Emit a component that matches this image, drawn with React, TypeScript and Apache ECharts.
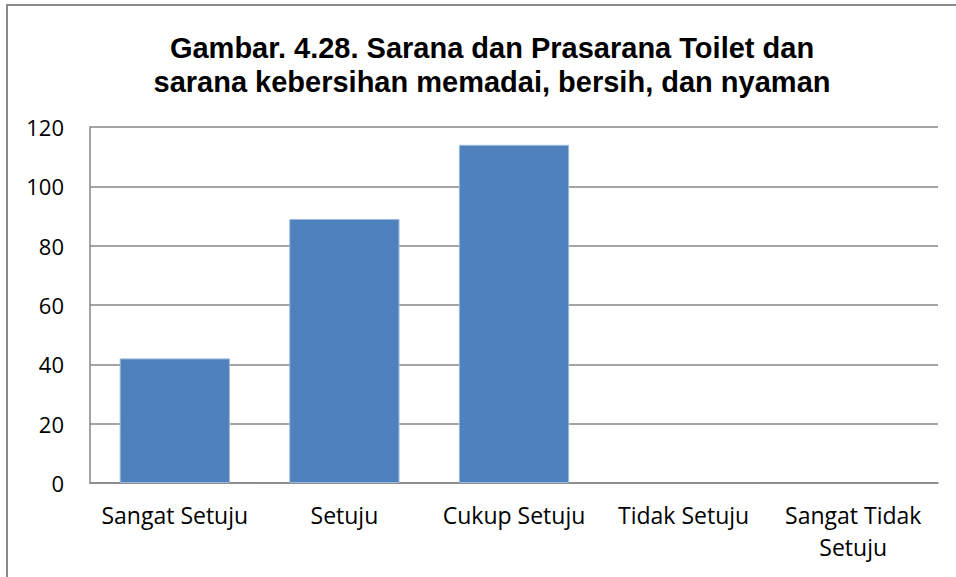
import React, { useEffect, useRef } from "react";
import * as echarts from "echarts";

const titleLines = [
  "Gambar. 4.28. Sarana dan Prasarana Toilet dan",
  "sarana kebersihan memadai, bersih, dan nyaman",
];
const categories = [
  "Sangat Setuju",
  "Setuju",
  "Cukup Setuju",
  "Tidak Setuju",
  "Sangat Tidak\nSetuju",
];
const values = [42, 89, 114, 0, 0];
const yMin = 0;
const yMax = 120;
const yInterval = 20;

export default function App() {
  const ref = useRef<HTMLDivElement>(null);
  useEffect(() => {
    document.body.style.margin = "0";
    const chart = echarts.init(ref.current!, null, { renderer: "svg" });
    chart.setOption({
      animation: false,
      backgroundColor: "#ffffff",
      graphic: [
        {
          type: "rect",
          shape: { x: 7, y: 5, width: 1000, height: 1000 },
          style: { fill: "none", stroke: "#8a8a8a", lineWidth: 2 },
          silent: true,
        },
      ],
      title: {
        text: titleLines.join("\n"),
        left: 487,
        textAlign: "center",
        top: 26,
        textStyle: {
          fontFamily: "'Liberation Sans', Arial, sans-serif",
          fontWeight: "bold",
          fontSize: 29,
          lineHeight: 34,
          color: "#000000",
        },
      },
      grid: { left: 90, top: 127, right: 18, bottom: 94, containLabel: false },
      xAxis: {
        type: "category",
        data: categories,
        axisLine: { show: true, lineStyle: { color: "#868686", width: 1.5 } },
        axisTick: { show: false },
        axisLabel: {
          interval: 0,
          margin: 16,
          fontFamily: "'Open Sans', sans-serif",
          fontSize: 23,
          lineHeight: 32,
          color: "#000000",
        },
      },
      yAxis: {
        type: "value",
        min: yMin,
        max: yMax,
        interval: yInterval,
        axisLine: { show: true, lineStyle: { color: "#868686", width: 1.5 } },
        axisTick: { show: false },
        splitLine: { show: true, lineStyle: { color: "#868686", width: 1.5 } },
        axisLabel: {
          margin: 26,
          fontFamily: "'Open Sans', sans-serif",
          fontSize: 22,
          color: "#000000",
        },
      },
      series: [
        {
          type: "bar",
          data: values.map((v) => ({
            value: v,
            itemStyle: v === 0 ? { borderWidth: 0 } : undefined,
          })),
          barWidth: "65%",
          itemStyle: { color: "#4F81BD", borderColor: "#9DB9DC", borderWidth: 1 },
        },
      ],
    });
    return () => chart.dispose();
  }, []);
  return (
    <div
      ref={ref}
      style={{ position: "fixed", left: 0, top: 0, width: 956, height: 577 }}
    />
  );
}
